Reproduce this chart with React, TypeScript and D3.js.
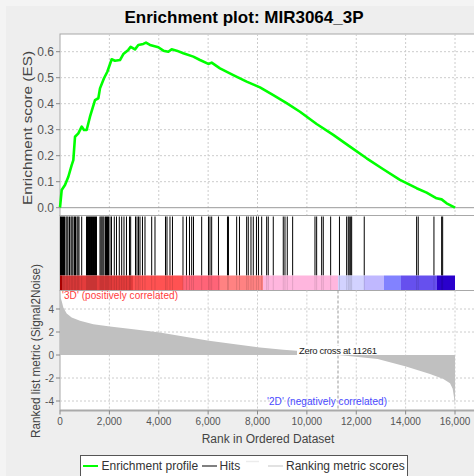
import React from "react";
import * as d3 from "d3";

// running enrichment score: [rank, ES]
const esProfile: [number, number][] = [
  [0, 0], [68, 0.068], [202, 0.087], [338, 0.119], [473, 0.164], [540, 0.183],
  [608, 0.273], [743, 0.286], [878, 0.312], [972, 0.299], [1080, 0.299],
  [1215, 0.35], [1418, 0.414], [1553, 0.421], [1620, 0.459], [1782, 0.498],
  [1917, 0.523], [2093, 0.571], [2228, 0.565], [2430, 0.568], [2565, 0.591],
  [2767, 0.607], [2862, 0.619], [3038, 0.609], [3173, 0.626], [3375, 0.63],
  [3483, 0.635], [3645, 0.626], [3983, 0.617], [4185, 0.604], [4388, 0.6],
  [4523, 0.609], [4725, 0.604], [4995, 0.594], [5400, 0.581], [5670, 0.568],
  [6008, 0.553], [6143, 0.558], [6480, 0.536], [7020, 0.51], [7560, 0.485],
  [8100, 0.463], [8640, 0.433], [9180, 0.402], [9720, 0.369], [10395, 0.322],
  [11070, 0.28], [11745, 0.235], [12420, 0.19], [13095, 0.148], [13770, 0.107],
  [14445, 0.075], [14850, 0.058], [15255, 0.036], [15458, 0.032], [15660, 0.017],
  [16000, 0],
];

// ranks of the gene set members (hits)
const hitRanks = [
  20, 61, 101, 142, 182, 243, 284, 324, 385, 446, 486, 527, 587, 628, 689, 729, 770, 879,
  1073, 1114, 1154, 1195, 1235, 1276, 1316, 1357, 1397, 1438, 1478,
  1620, 1661, 1701, 1742, 1782, 1843, 1883, 1924, 1964, 2025, 2086,
  2199, 2288, 2402, 2499, 2592, 2693, 2815, 2863, 3058, 3119, 3179, 3240, 3341, 3443,
  3714, 3848, 4273, 4334, 4455, 4556, 4982, 5123, 5245, 5334, 5407, 5739, 6014, 6075,
  6144, 6419, 6784, 6824, 7156, 7270, 7561, 7626, 7736, 7829, 7958, 8039, 8169, 8371,
  8436, 8639, 9044, 9113, 9206, 9424, 10328, 10396, 10599, 10664, 10963, 11320, 11611,
  11676, 11717, 11774, 11814, 12324, 14446, 14511, 15147, 15459, 15500,
];

// ranked list metric (Signal2Noise): [rank, value]
const rankedMetric: [number, number][] = [
  [0, 5.5], [20, 5.0], [68, 4.7], [135, 4.13], [270, 3.61], [473, 3.26], [810, 2.97],
  [1350, 2.68], [2025, 2.48], [2970, 2.25], [4050, 1.96], [5063, 1.59], [6036, 1.24],
  [7021, 0.95], [8101, 0.66], [9046, 0.46], [9587, 0.38], [10397, 0.23], [11261, 0],
  [11882, -0.14], [12868, -0.35], [14016, -1.01], [14988, -1.65], [15528, -2.08],
  [15798, -2.45], [15906, -2.94], [15960, -3.67], [16000, -4.39],
];

// colour bar bins (rank boundaries)
const barBreaks = [0, 81, 2957, 4982, 6480, 8222, 11259, 12312, 13122, 13811, 15268, 16000];

const esTicks = [0, 0.1, 0.2, 0.3, 0.4, 0.5, 0.6];
const metricTicks = [-4, -2, 0, 2, 4];
const rankTicks = [0, 2000, 4000, 6000, 8000, 10000, 12000, 14000, 16000];
const zeroCross = 11261;

const barColors = ["#c00000", "#e43c3c", "#ff5252", "#ff6478", "#ff8282", "#ffb6de",
  "#d2d2ff", "#c0b8ff", "#8282ff", "#6650ee", "#2a00cc"];

const W = 474;
const H = 476;
const left = 60;
const right = 480;
const font = "'Liberation Sans', Arial, sans-serif";

const x = d3.scaleLinear().domain([0, 16000]).range([60, 455]);
const yES = d3.scaleLinear().domain([0, 0.6]).range([207.7, 51.7]);
const yM = d3.scaleLinear().domain([0, 4]).range([355, 309]);

const topY0 = 34, topY1 = 215.5;
const hitY0 = 215.5, hitY1 = 275.5, barY1 = 290.5;
const botY0 = 290.5, botY1 = 410.5;

export default function App() {
  const esLine = d3.line<[number, number]>()
    .x((d) => x(d[0]))
    .y((d) => yES(d[1]));
  const metricArea = d3.area<[number, number]>()
    .x((d) => x(d[0]))
    .y0(yM(0))
    .y1((d) => yM(d[1]));
  const fmtRank = d3.format(",");
  const fmtES = d3.format(".1f");
  const grid = "#cccccc";

  return (
    <div style={{ position: "absolute", left: 0, top: 0 }}>
      <svg width={W} height={H} style={{ display: "block", fontFamily: font }}>
        <rect width={W} height={H} fill="#f4f4f4" />
        <rect x={6} y={6} width={W} height={H} fill="#eeeeee" />

        <text x={244} y={23} textAnchor="middle" fontSize={17} fontWeight="bold" fill="#000">
          Enrichment plot: MIR3064_3P
        </text>

        {/* top panel: enrichment score */}
        <rect x={left} y={topY0} width={right - left} height={topY1 - topY0} fill="#fff" stroke="#a8a8a8" />
        {esTicks.slice(1).map((t) => (
          <line key={t} x1={left} x2={right} y1={yES(t)} y2={yES(t)} stroke={grid} strokeDasharray="2,2" />
        ))}
        {rankTicks.slice(1).map((t) => (
          <line key={t} x1={x(t)} x2={x(t)} y1={topY0} y2={topY1} stroke={grid} strokeDasharray="2,2" />
        ))}
        <line x1={left} x2={right} y1={yES(0)} y2={yES(0)} stroke="#999" />
        <path d={esLine(esProfile) ?? ""} fill="none" stroke="#00ff00" strokeWidth={2.6} strokeLinejoin="round" />
        {esTicks.map((t) => (
          <g key={t}>
            <line x1={left - 4} x2={left} y1={yES(t)} y2={yES(t)} stroke="#888" />
            <text x={left - 6} y={yES(t) + 4} textAnchor="end" fontSize={12} fill="#555">{fmtES(t)}</text>
          </g>
        ))}
        <text transform={`translate(32,128) rotate(-90)`} textAnchor="middle" fontSize={13.5}
          fill="#444" textLength={154} lengthAdjust="spacingAndGlyphs">
          Enrichment score (ES)
        </text>

        {/* hits + colour bar */}
        <rect x={left} y={hitY0} width={right - left} height={barY1 - hitY0} fill="#fff" stroke="#a8a8a8" />
        {hitRanks.map((r, i) => (
          <line key={"h" + i} x1={x(r)} x2={x(r)} y1={hitY0 + 1} y2={hitY1} stroke="#000" strokeWidth={1} />
        ))}
        {barColors.map((c, i) => (
          <rect key={"b" + i} x={x(barBreaks[i])} y={hitY1} width={x(barBreaks[i + 1]) - x(barBreaks[i])}
            height={barY1 - hitY1} fill={c} />
        ))}
        {hitRanks.map((r, i) => (
          <line key={"o" + i} x1={x(r)} x2={x(r)} y1={hitY1} y2={barY1} stroke="#000" strokeOpacity={0.12} />
        ))}

        {/* bottom panel: ranked list metric */}
        <rect x={left} y={botY0} width={right - left} height={botY1 - botY0} fill="#fff" stroke="#a8a8a8" />
        {metricTicks.filter((t) => t !== 0).map((t) => (
          <line key={t} x1={left} x2={right} y1={yM(t)} y2={yM(t)} stroke={grid} strokeDasharray="2,2" />
        ))}
        {rankTicks.slice(1).map((t) => (
          <line key={t} x1={x(t)} x2={x(t)} y1={botY0} y2={botY1} stroke={grid} strokeDasharray="2,2" />
        ))}
        <path d={metricArea(rankedMetric) ?? ""} fill="#c0c0c0" />
        <line x1={x(zeroCross)} x2={x(zeroCross)} y1={botY0} y2={botY1} stroke="#999" strokeDasharray="3,2" />
        <rect x={x(zeroCross) - 41} y={yM(0) - 9} width={82} height={9} fill="#fff" />
        <text x={x(zeroCross)} y={yM(0) - 1.5} textAnchor="middle" fontSize={9.5} fill="#222"
          textLength={78} lengthAdjust="spacing">
          Zero cross at {zeroCross}
        </text>
        <text x={62} y={299} fontSize={10} fill="#ff3c3c" textLength={116} lengthAdjust="spacing">
          '3D' (positively correlated)
        </text>
        <text x={267} y={404.5} fontSize={10} fill="#4a4aff" textLength={120} lengthAdjust="spacing">
          '2D' (negatively correlated)
        </text>
        <line x1={left} x2={right} y1={botY1} y2={botY1} stroke="#aaa" strokeWidth={2} />
        {metricTicks.map((t) => (
          <g key={t}>
            <line x1={left - 4} x2={left} y1={yM(t)} y2={yM(t)} stroke="#888" />
            <text x={left - 6} y={yM(t) + 3.5} textAnchor="end" fontSize={10} fill="#555">{t}</text>
          </g>
        ))}
        {rankTicks.map((t) => (
          <g key={t}>
            <line x1={x(t)} x2={x(t)} y1={botY1} y2={botY1 + 4} stroke="#888" />
            <text x={x(t)} y={425} textAnchor="middle" fontSize={10} fill="#555">{fmtRank(t)}</text>
          </g>
        ))}
        <text x={268} y={443} textAnchor="middle" fontSize={12} fill="#444">Rank in Ordered Dataset</text>
        <text transform={`translate(40,351) rotate(-90)`} textAnchor="middle" fontSize={12}
          fill="#444" textLength={174} lengthAdjust="spacingAndGlyphs">
          Ranked list metric (Signal2Noise)
        </text>

        {/* legend */}
        <rect x={80.5} y={455.5} width={327} height={30} fill="#fff" stroke="#555" />
        <line x1={83} x2={98} y1={466} y2={466} stroke="#00ff00" strokeWidth={2} />
        <text x={101.5} y={470} fontSize={12} fill="#333">Enrichment profile</text>
        <line x1={202} x2={217} y1={466} y2={466} stroke="#808080" strokeWidth={2} />
        <text x={219.5} y={470} fontSize={12} fill="#333">Hits</text>
        <line x1={246} x2={259} y1={461.5} y2={461.5} stroke="#ececec" strokeWidth={1.5} />
        <line x1={268} x2={283} y1={466} y2={466} stroke="#e2e2e2" strokeWidth={2} />
        <text x={286} y={470} fontSize={12} fill="#333">Ranking metric scores</text>
      </svg>
    </div>
  );
}
